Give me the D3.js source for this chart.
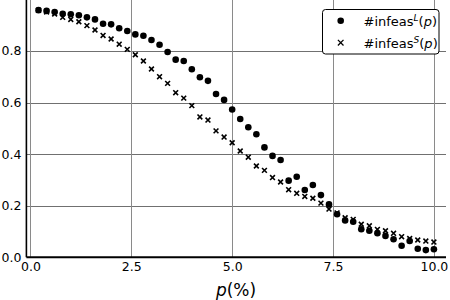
<!DOCTYPE html>
<html>
<head>
<meta charset="utf-8">
<script src="https://cdn.jsdelivr.net/npm/d3@7"></script>
<style>
  body { margin: 0; background: #fff; }
  text { font-family: "DejaVu Sans", sans-serif; fill: #000; }
</style>
</head>
<body>
<svg width="450" height="300"></svg>
<script>
// p in percent
var pValues = [0.2,0.4,0.6,0.8,1.0,1.2,1.4,1.6,1.8,2.0,
               2.2,2.4,2.6,2.8,3.0,3.2,3.4,3.6,3.8,4.0,
               4.2,4.4,4.6,4.8,5.0,5.2,5.4,5.6,5.8,6.0,
               6.2,6.4,6.6,6.8,7.0,7.2,7.4,7.6,7.8,8.0,
               8.2,8.4,8.6,8.8,9.0,9.2,9.4,9.6,9.8,10.0];

var infeasL = [0.958,0.955,0.951,0.944,0.942,0.938,0.930,0.922,0.905,0.903,
               0.888,0.877,0.864,0.859,0.842,0.824,0.796,0.766,0.761,0.729,
               0.698,0.684,0.633,0.610,0.573,0.536,0.504,0.477,0.426,0.393,
               0.377,0.297,0.312,0.261,0.280,0.241,0.205,0.167,0.143,0.138,
               0.109,0.103,0.093,0.083,0.070,0.045,0.063,0.033,0.028,0.031];

var infeasS = [0.957,0.951,0.943,0.930,0.922,0.913,0.898,0.881,0.860,0.846,
               0.826,0.806,0.785,0.761,0.730,0.700,0.674,0.638,0.617,0.588,
               0.544,0.532,0.490,0.466,0.444,0.412,0.388,0.354,0.337,0.309,
               0.292,0.262,0.248,0.236,0.229,0.210,0.187,0.172,0.153,0.147,
               0.128,0.122,0.108,0.103,0.093,0.080,0.073,0.067,0.063,0.059];

var xTicks = [0, 2.5, 5, 7.5, 10];
var yTicks = [0, 0.2, 0.4, 0.6, 0.8];

var svg = d3.select("svg");

var x = d3.scaleLinear().domain([-0.1, 10.3]).range([26.4, 446]);
var y = d3.scaleLinear().domain([0, 1]).range([257.3, -0.7]);

// grid
var grid = svg.append("g").attr("class", "grid");
grid.selectAll("line.h")
    .data(yTicks.slice(1))
    .enter().append("line")
      .attr("class", "h")
      .attr("x1", x.range()[0]).attr("x2", x.range()[1])
      .attr("y1", function(d) { return Math.round(y(d)) + 0.5; })
      .attr("y2", function(d) { return Math.round(y(d)) + 0.5; })
      .attr("stroke", "#707070").attr("stroke-width", 1);
grid.selectAll("line.v")
    .data(xTicks)
    .enter().append("line")
      .attr("class", "v")
      .attr("y1", 0).attr("y2", y(0))
      .attr("x1", function(d) { return Math.round(x(d)) + 0.5; })
      .attr("x2", function(d) { return Math.round(x(d)) + 0.5; })
      .attr("stroke", "#8a8a8a").attr("stroke-width", 1);

// axes
var xAxis = d3.axisBottom(x).tickValues(xTicks).tickSize(0).tickPadding(5)
    .tickFormat(d3.format(".1f"));
var yAxis = d3.axisLeft(y).tickValues(yTicks).tickSize(0).tickPadding(5)
    .tickFormat(d3.format(".1f"));

var gx = svg.append("g").attr("transform", "translate(0," + y(0) + ")").call(xAxis);
gx.select(".domain").remove();
gx.selectAll("text").attr("font-family", "DejaVu Sans").attr("font-size", 12.5).attr("fill", "#000");

var gy = svg.append("g").attr("transform", "translate(" + x.range()[0] + ",0)").call(yAxis);
gy.select(".domain").remove();
gy.selectAll("text").attr("font-family", "DejaVu Sans").attr("font-size", 12.5).attr("fill", "#000");

// spines
svg.append("line")
    .attr("x1", x.range()[0]).attr("x2", x.range()[1])
    .attr("y1", y(0)).attr("y2", y(0))
    .attr("stroke", "#000").attr("stroke-width", 2);
svg.append("line")
    .attr("x1", x.range()[0]).attr("x2", x.range()[0])
    .attr("y1", 0).attr("y2", y(0))
    .attr("stroke", "#000").attr("stroke-width", 1.6);

// series
var dotsL = pValues.map(function(p, i) { return {p: p, v: infeasL[i]}; });
var dotsS = pValues.map(function(p, i) { return {p: p, v: infeasS[i]}; });

svg.append("g").selectAll("circle")
    .data(dotsL)
    .enter().append("circle")
      .attr("cx", function(d) { return x(d.p); })
      .attr("cy", function(d) { return y(d.v); })
      .attr("r", 3.3)
      .attr("fill", "#000");

function crossPath(cx, cy, h) {
  return "M" + (cx - h) + "," + (cy - h) + "L" + (cx + h) + "," + (cy + h) +
         "M" + (cx - h) + "," + (cy + h) + "L" + (cx + h) + "," + (cy - h);
}

svg.append("g").selectAll("path")
    .data(dotsS)
    .enter().append("path")
      .attr("d", function(d) { return crossPath(x(d.p), y(d.v), 2.4); })
      .attr("stroke", "#000")
      .attr("stroke-width", 1.6)
      .attr("fill", "none");

// x label
var xl = svg.append("text")
    .attr("x", 236).attr("y", 296)
    .attr("text-anchor", "middle")
    .attr("font-size", 17);
xl.append("tspan").attr("font-style", "italic").text("p");
xl.append("tspan").text("(%)");

// legend
var legend = svg.append("g").attr("class", "legend");
legend.append("rect")
    .attr("x", 322.5).attr("y", 9.5)
    .attr("width", 116.5).attr("height", 44.5)
    .attr("rx", 3).attr("ry", 3)
    .attr("fill", "#fff")
    .attr("stroke", "#000").attr("stroke-width", 1);

legend.append("circle").attr("cx", 340.7).attr("cy", 20.7).attr("r", 3.3).attr("fill", "#000");
legend.append("path").attr("d", crossPath(340.7, 42.7, 2.8))
    .attr("stroke", "#000").attr("stroke-width", 1.3).attr("fill", "none");

var labels = [{sup: "L", y: 25.5}, {sup: "S", y: 47.5}];
labels.forEach(function(l) {
  var t = legend.append("text")
      .attr("x", 363.5).attr("y", l.y)
      .attr("font-size", 13);
  t.append("tspan").text("#infeas");
  t.append("tspan").attr("font-style", "italic").attr("font-size", 9)
      .attr("dy", -5).text(l.sup);
  t.append("tspan").attr("dy", 5).text("(");
  t.append("tspan").attr("font-style", "italic").text("p");
  t.append("tspan").text(")");
});
</script>
</body>
</html>
